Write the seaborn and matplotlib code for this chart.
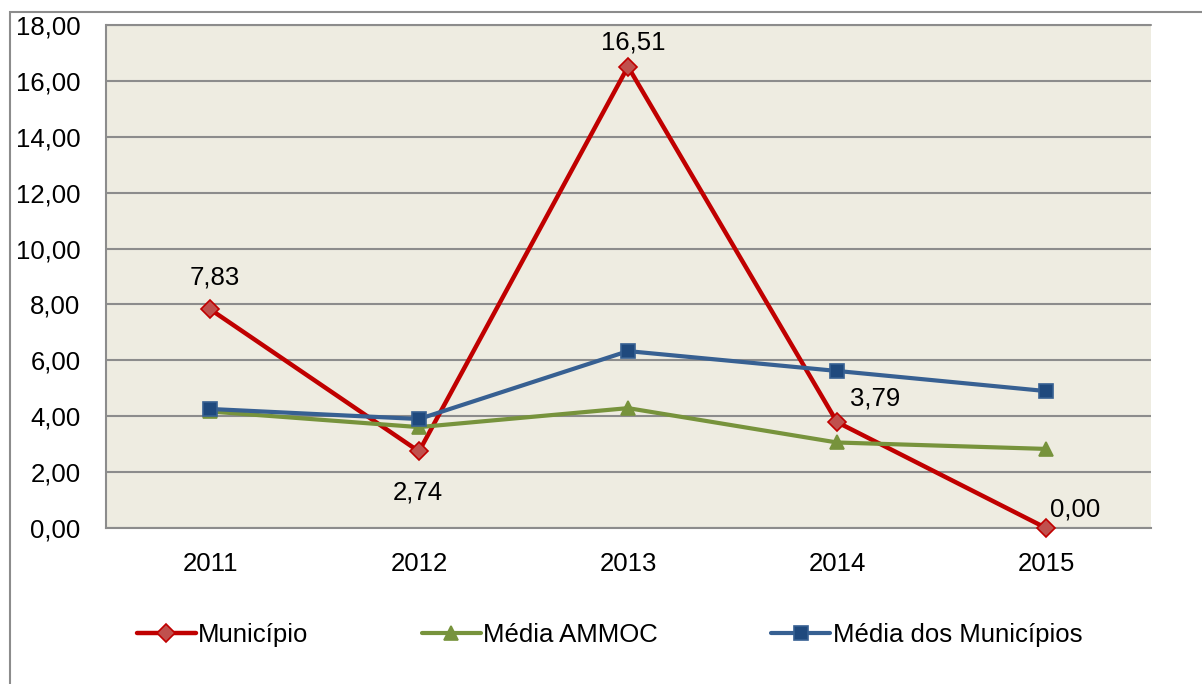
import pandas as pd
import matplotlib.pyplot as plt
import seaborn as sns
from matplotlib.lines import Line2D
from matplotlib.patches import Rectangle

anos = [2011, 2012, 2013, 2014, 2015]
municipio = [7.83, 2.74, 16.51, 3.79, 0.00]
media_ammoc = [4.17, 3.61, 4.29, 3.06, 2.83]
media_municipios = [4.26, 3.90, 6.33, 5.62, 4.90]

rotulos = ["7,83", "2,74", "16,51", "3,79", "0,00"]
yticks = [0, 2, 4, 6, 8, 10, 12, 14, 16, 18]

series = {
    "Município": municipio,
    "Média AMMOC": media_ammoc,
    "Média dos Municípios": media_municipios,
}
df = pd.DataFrame({"x": list(range(len(anos))) * 3,
                   "valor": municipio + media_ammoc + media_municipios,
                   "serie": [s for s in series for _ in anos]})

estilo = {
    "Município": dict(color="#C00000", marker="D", mfc="#C0504D", mec="#C00000", ms=9, lw=3.2),
    "Média AMMOC": dict(color="#77933C", marker="^", mfc="#77933C", mec="#77933C", ms=10, lw=3.0),
    "Média dos Municípios": dict(color="#376092", marker="s", mfc="#1F497D", mec="#376092", ms=9.5, lw=3.0),
}

sns.set_theme(style="white")
plt.rcParams["font.family"] = ["Liberation Sans", "DejaVu Sans"]
plt.rcParams["text.color"] = "black"
FS = 18.5

fig = plt.figure(figsize=(12.02, 6.84), dpi=100)
ax = fig.add_axes([105.5 / 1202, 1 - 528 / 684, 1045 / 1202, 503 / 684])
ax.set_facecolor("#EEECE1")

for nome in series:
    st = estilo[nome]
    sns.lineplot(data=df[df["serie"] == nome], x="x", y="valor", ax=ax,
                 color=st["color"], lw=st["lw"], marker=st["marker"],
                 markersize=st["ms"], markerfacecolor=st["mfc"],
                 markeredgecolor=st["mec"], markeredgewidth=1.2, legend=False,
                 clip_on=False, zorder=3)

# rótulos de dados do Município (deslocamento em pixels)
offsets = [(5, 32), (-1, -41), (5, 24), (38, 24), (29, 18)]
for i, (dx, dy) in enumerate(offsets):
    ax.annotate(rotulos[i], (i, municipio[i]), xytext=(dx * 0.72, dy * 0.72),
                textcoords="offset points", ha="center", va="center",
                fontsize=FS, color="black")

ax.set_xlim(-0.5, len(anos) - 0.5)
ax.set_ylim(0, 18)
ax.set_yticks(yticks)
ax.set_yticklabels([f"{v:.2f}".replace(".", ",") for v in yticks], fontsize=FS)
ax.set_xticks(range(len(anos)))
ax.set_xticklabels([str(a) for a in anos], fontsize=FS)
ax.set_xlabel("")
ax.set_ylabel("")
ax.grid(axis="y", color="#8C8C8C", lw=1.5)
ax.axhline(18, color="#8C8C8C", lw=1.5, clip_on=False, zorder=1)
ax.set_axisbelow(True)
for s in ["top", "right"]:
    ax.spines[s].set_visible(False)
for s in ["left", "bottom"]:
    ax.spines[s].set_color("#8C8C8C")
    ax.spines[s].set_linewidth(1.5)
ax.tick_params(axis="y", length=8, width=1.5, color="#8C8C8C", pad=10, labelcolor="black")
ax.tick_params(axis="x", length=0, pad=17, labelcolor="black")

handles = []
for nome in series:
    st = estilo[nome]
    handles.append(Line2D([], [], color=st["color"], lw=st["lw"], marker=st["marker"],
                          markersize=st["ms"], markerfacecolor=st["mfc"],
                          markeredgecolor=st["mec"], markeredgewidth=1.2))
fig.legend(handles, list(series), loc="center", bbox_to_anchor=(0.507, 1 - 635 / 684),
           ncol=3, frameon=False, fontsize=FS, handlelength=2.3, handletextpad=0.1,
           columnspacing=4.4, labelcolor="black")

# moldura do gráfico
fig.patches.append(Rectangle((10 / 1202, -0.05), 1.2, 1 - 12 / 684 + 0.05,
                             transform=fig.transFigure, fill=False,
                             edgecolor="#8C8C8C", lw=1.5))

fig.savefig("out.png", dpi=100)
